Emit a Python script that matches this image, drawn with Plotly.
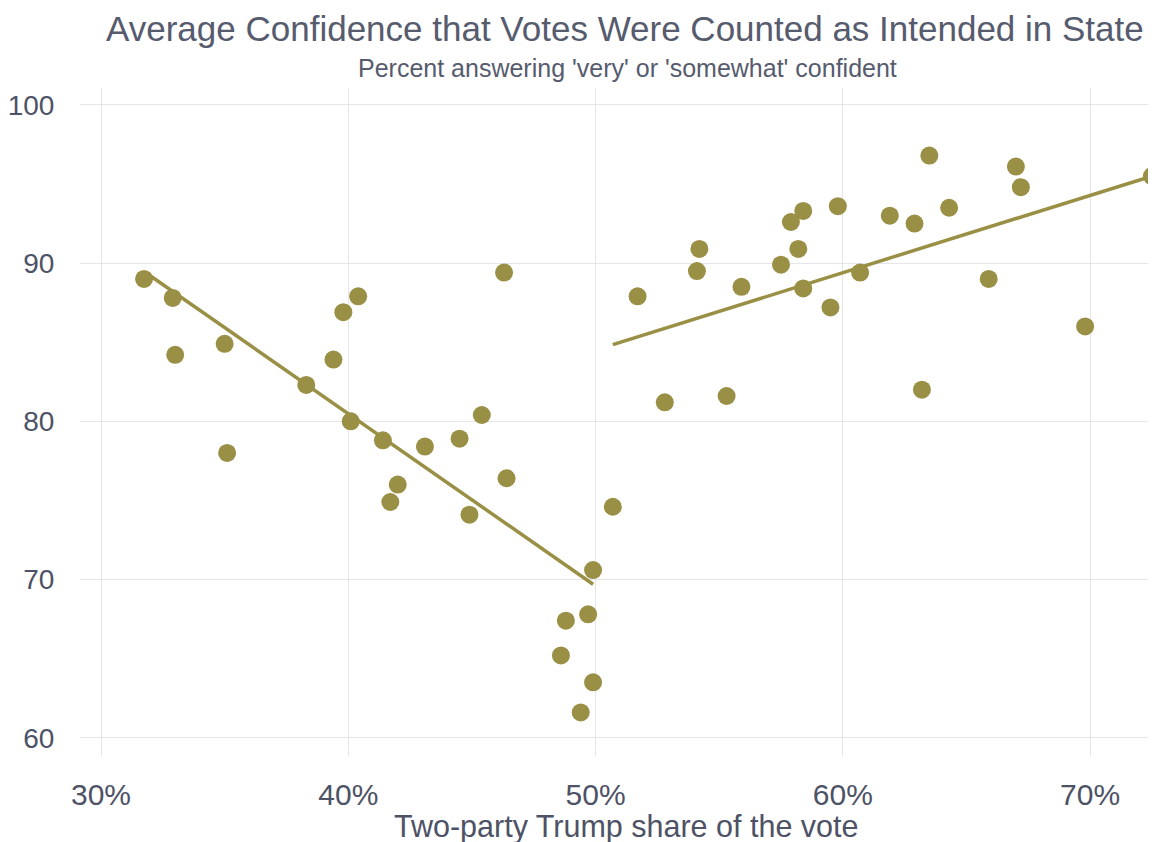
import numpy as np
import plotly.graph_objects as go

# Two-party Trump share (%) and confidence (%)
trump_share_low = [31.74, 32.9, 33.0, 35.0, 35.1, 38.3, 39.4, 39.8, 40.4, 40.1,
                   41.4, 41.7, 42.0, 43.1, 44.5, 44.9, 45.4, 46.3, 46.4, 48.6,
                   48.8, 49.4, 49.7, 49.9, 49.9]
confidence_low = [89.0, 87.8, 84.2, 84.9, 78.0, 82.3, 83.9, 86.9, 87.9, 80.0,
                  78.8, 74.9, 76.0, 78.4, 78.9, 74.1, 80.4, 89.4, 76.4, 65.2,
                  67.4, 61.6, 67.8, 63.5, 70.6]
trump_share_high = [50.7, 51.7, 52.8, 54.1, 54.2, 55.3, 55.9, 57.5, 57.9, 58.2,
                    58.4, 58.4, 59.5, 59.8, 60.7, 61.9, 62.9, 63.2, 63.5, 64.3,
                    65.9, 67.0, 67.2, 69.8, 72.5]
confidence_high = [74.6, 87.9, 81.2, 89.5, 90.9, 81.6, 88.5, 89.9, 92.6, 90.9,
                   88.4, 93.3, 87.2, 93.6, 89.4, 93.0, 92.5, 82.0, 96.8, 93.5,
                   89.0, 96.1, 94.8, 86.0, 95.5]

# fitted trend lines (endpoints)
fit_low_x = [31.9, 49.9]
fit_low_y = [89.3, 69.7]
fit_high_x = [50.7, 72.5]
fit_high_y = [84.85, 95.5]

x_ticks = [30, 40, 50, 60, 70]
x_tick_labels = ["30%", "40%", "50%", "60%", "70%"]
y_ticks = [60, 70, 80, 90, 100]

OLIVE = "#998f45"
TXT = "#4d5266"
TITLE_C = "#565b6e"
FONT = "Liberation Sans, Arial, sans-serif"

fig = go.Figure()
for fx, fy in [(fit_low_x, fit_low_y), (fit_high_x, fit_high_y)]:
    fig.add_trace(go.Scatter(x=fx, y=fy, mode="lines",
                             line=dict(color=OLIVE, width=3.5),
                             hoverinfo="skip", showlegend=False))
fig.add_trace(go.Scatter(x=trump_share_low + trump_share_high,
                         y=confidence_low + confidence_high,
                         mode="markers",
                         marker=dict(color=OLIVE, size=18, line=dict(width=0)),
                         showlegend=False))

fig.update_layout(
    width=1156, height=842,
    paper_bgcolor="white", plot_bgcolor="white",
    margin=dict(l=72, r=0, t=80, b=93, autoexpand=False),
    font=dict(family=FONT, color=TXT),
    annotations=[
        dict(text="Average Confidence that Votes Were Counted as Intended in State",
             xref="paper", yref="paper", x=0.503, y=1, yshift=60,
             xanchor="center", yanchor="middle", showarrow=False,
             font=dict(size=35, color=TITLE_C, family=FONT)),
        dict(text="Percent answering 'very' or 'somewhat' confident",
             xref="paper", yref="paper", x=0.505, y=1, yshift=20,
             xanchor="center", yanchor="middle", showarrow=False,
             font=dict(size=25, color=TITLE_C, family=FONT)),
        dict(text="Two-party Trump share of the vote",
             xref="paper", yref="paper", x=0.504, y=0, yshift=-69,
             xanchor="center", yanchor="middle", showarrow=False,
             font=dict(size=30.5, color=TXT, family=FONT)),
    ],
    xaxis=dict(range=[29.15, 72.99], tickvals=x_ticks, ticktext=x_tick_labels,
               showgrid=True, gridcolor="#e6e6ea", gridwidth=1.2, zeroline=False,
               showline=False, ticks="outside", ticklen=11, tickcolor="rgba(0,0,0,0)",
               tickfont=dict(size=30, color=TXT), automargin=False),
    yaxis=dict(range=[58.78, 101.07], tickvals=y_ticks,
               showgrid=True, gridcolor="#e6e6ea", gridwidth=1.2, zeroline=False,
               showline=False, ticks="outside", ticklen=19, tickcolor="rgba(0,0,0,0)",
               tickfont=dict(size=28, color=TXT), automargin=False),
)

fig.write_html("out.html")
